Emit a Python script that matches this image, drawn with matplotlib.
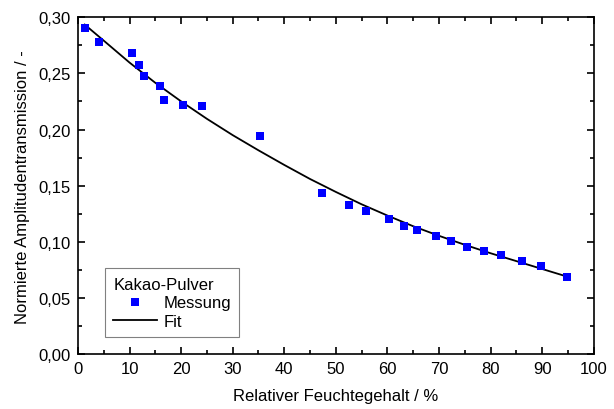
import matplotlib
matplotlib.use("Agg")
import matplotlib.pyplot as plt
from matplotlib.ticker import MultipleLocator, FuncFormatter

plt.rcParams["font.family"] = ["Liberation Sans", "DejaVu Sans"]

# measured points (relative moisture %, normalised amplitude transmission)
feuchte = [1.3, 4.0, 10.4, 11.8, 12.8, 15.9, 16.6, 20.4, 24.1, 35.3, 47.4,
           52.5, 55.8, 60.4, 63.2, 65.8, 69.4, 72.4, 75.4, 78.7, 82.0, 86.0,
           89.8, 94.9]
transmission = [0.290, 0.2775, 0.268, 0.2577, 0.248, 0.239, 0.2266, 0.2219,
                0.2213, 0.1944, 0.1435, 0.1325, 0.1272, 0.1201, 0.1145, 0.1109,
                0.1053, 0.1006, 0.0959, 0.0920, 0.0885, 0.0834, 0.0784, 0.0692]

# fit curve
fit_x = [1.3, 5, 10, 15, 20, 25, 30, 35, 40, 45, 50, 55, 60, 65, 70, 75, 80,
         85, 90, 95]
fit_y = [0.2933, 0.2790, 0.2595, 0.2415, 0.2250, 0.2095, 0.1950, 0.1815,
         0.1685, 0.1560, 0.1445, 0.1335, 0.1235, 0.1140, 0.1055, 0.0975,
         0.0900, 0.0830, 0.0760, 0.0690]

fig = plt.figure(figsize=(6.14, 4.10), dpi=100)
ax = fig.add_axes([0.127, 0.133, 0.840, 0.823])

ax.plot(feuchte, transmission, "s", color="#0000ff", markersize=5.2,
        markeredgewidth=0, label="Messung", zorder=3)
ax.plot(fit_x, fit_y, "-", color="black", linewidth=1.3, label="Fit")

ax.set_xlim(0, 100)
ax.set_ylim(0, 0.30)
ax.xaxis.set_major_locator(MultipleLocator(10))
ax.xaxis.set_minor_locator(MultipleLocator(5))
ax.yaxis.set_major_locator(MultipleLocator(0.05))
ax.yaxis.set_minor_locator(MultipleLocator(0.025))
ax.yaxis.set_major_formatter(FuncFormatter(lambda v, _: f"{v:.2f}".replace(".", ",")))

ax.tick_params(which="both", direction="in", top=True, right=True,
               labelsize=12, width=1.2, pad=5)
ax.tick_params(which="major", length=5)
ax.tick_params(which="minor", length=3)
for sp in ax.spines.values():
    sp.set_linewidth(1.2)

ax.set_xlabel("Relativer Feuchtegehalt / %", fontsize=12, labelpad=8)
ax.set_ylabel("Normierte Amplitudentransmission / -", fontsize=12, labelpad=6)

leg = ax.legend(title="Kakao-Pulver", loc="lower left",
                bbox_to_anchor=(0.036, 0.026), fontsize=12, title_fontsize=12,
                fancybox=False, edgecolor="#808080", framealpha=1,
                handlelength=2.6, borderpad=0.5, labelspacing=0.22,
                handletextpad=0.4, alignment="left")
leg.get_frame().set_linewidth(0.8)

fig.savefig("out.png", dpi=100)
